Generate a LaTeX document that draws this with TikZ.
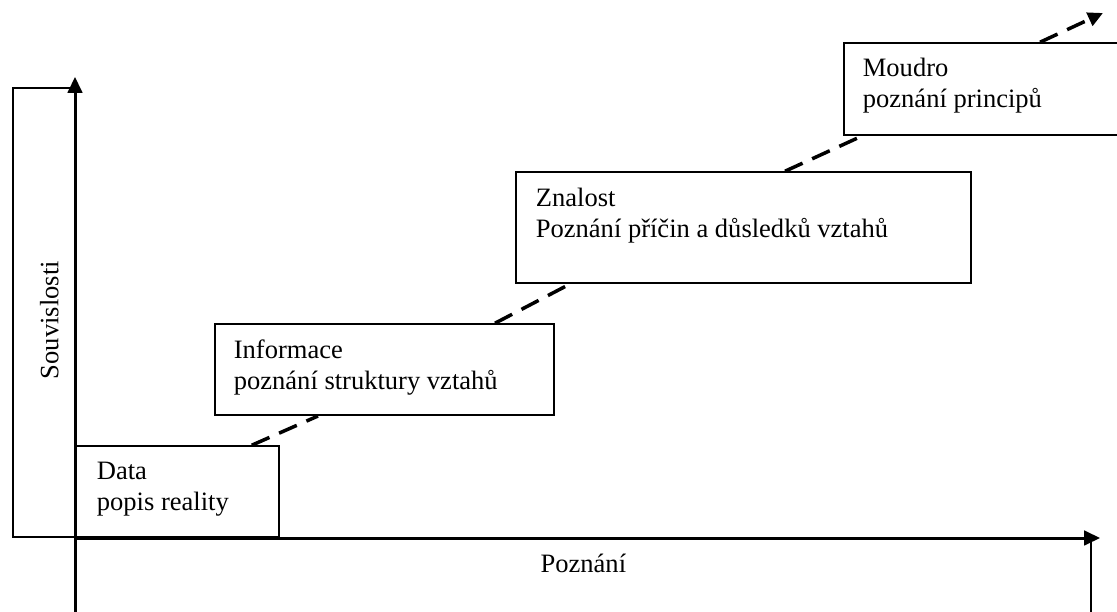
\documentclass[tikz,border=0pt]{standalone}
\usepackage{fontspec}
\setmainfont{Liberation Serif}
\usetikzlibrary{positioning,arrows.meta}

\begin{document}
\begin{tikzpicture}[line width=1pt]
  \tikzstyle{box}=[rectangle, draw, black, inner sep=0pt, anchor=south west]
  \tikzstyle{txt}=[inner sep=0pt, align=left, font=\fontsize{15.1}{17.6}\selectfont]
  \tikzstyle{stair}=[line width=2pt, dash pattern=on 11pt off 6pt]
  \tikzstyle{axis}=[-{Triangle[length=0.32cm,width=0.30cm]}]

  \useasboundingbox (0,0) rectangle (22.34,12.24);
  \clip (0,0) rectangle (22.34,12.24);

  \node[box, minimum width=1.26cm, minimum height=8.98cm] (souv) at (0.24,1.48) {};
  \node[txt, rotate=90] (souv_t) at ([xshift=0.10cm,yshift=-0.15cm]souv.center) {Souvislosti};
  \node[box, anchor=north west, minimum width=20.30cm, minimum height=2cm] (pozn) at (1.50,1.48) {};
  \node[txt, anchor=base] (pozn_t) at ([yshift=-0.70cm]pozn.north) {Poznání};

  \node[box, minimum width=4.06cm, minimum height=1.82cm] (data) at (1.50,1.48) {};
  \node[box, minimum width=6.78cm, minimum height=1.82cm] (info) at (4.28,3.92) {};
  \node[box, minimum width=9.10cm, minimum height=2.22cm] (znal) at (10.30,6.56) {};
  \node[box, minimum width=6.00cm, minimum height=1.84cm] (moud) at (16.86,9.52) {};

  \node[txt, below right=0.32cm and 0.42cm of data.north west] (data_t) {Data\\popis reality};
  \node[txt, below right=0.32cm and 0.38cm of info.north west] (info_t) {Informace\\poznání struktury vztahů};
  \node[txt, below right=0.32cm and 0.40cm of znal.north west] (znal_t) {Znalost\\Poznání příčin a důsledků vztahů};
  \node[txt, below right=0.30cm and 0.38cm of moud.north west] (moud_t) {Moudro\\poznání principů};

  \coordinate (O) at (1.50,1.48);
  \coordinate (ybot) at (1.50,0);
  \coordinate (ytop) at (1.50,10.70);
  \coordinate (xtip) at (22.00,1.48);
  \coordinate (top) at (22.06,11.98);

  \draw[axis] (ybot) -- (ytop);
  \draw[axis] (O) -- (xtip);

  \draw[stair] ([xshift=-0.56cm]data.north east) -- ([xshift=2.08cm]info.south west);
  \draw[stair] ([xshift=5.62cm]info.north west) -- ([xshift=1.10cm]znal.south west);
  \draw[stair] ([xshift=5.40cm]znal.north west) -- ([xshift=0.38cm]moud.south west);
  \draw[stair, -{Triangle[length=0.30cm,width=0.28cm]}] ([xshift=3.94cm]moud.north west) -- (top);
\end{tikzpicture}
\end{document}
